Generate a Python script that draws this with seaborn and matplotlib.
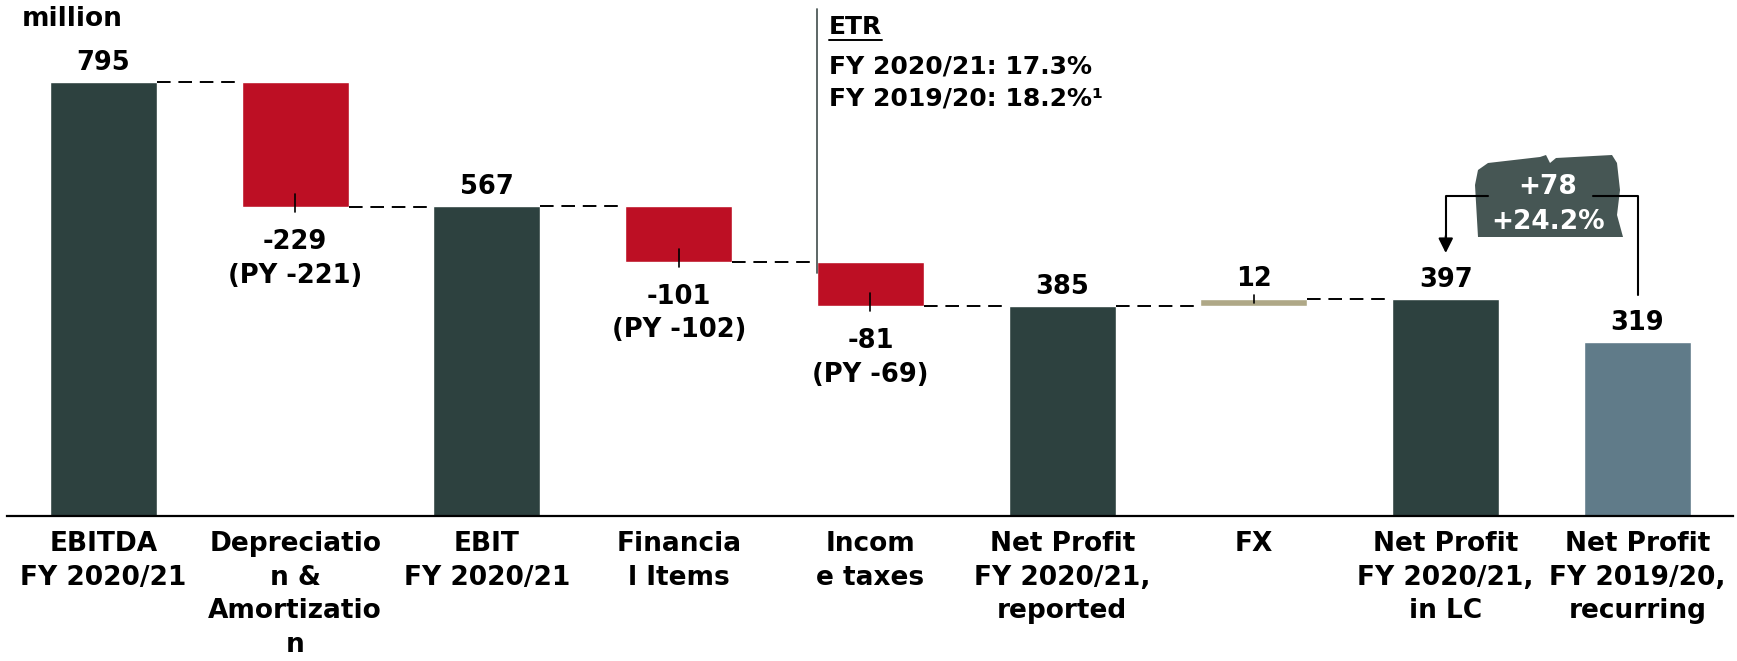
import seaborn as sns
import matplotlib.pyplot as plt
from matplotlib.patches import Polygon
import pandas as pd

categories = ["EBITDA\nFY 2020/21", "Depreciatio\nn &\nAmortizatio\nn", "EBIT\nFY 2020/21",
              "Financia\nl Items", "Incom\ne taxes", "Net Profit\nFY 2020/21,\nreported",
              "FX", "Net Profit\nFY 2020/21,\nin LC", "Net Profit\nFY 2019/20,\nrecurring"]
values = [795, -229, 567, -101, -81, 385, 12, 397, 319]
kinds = ["total", "delta", "total", "delta", "delta", "total", "delta", "total", "prior"]
prior_year = ["", "(PY -221)", "", "(PY -102)", "(PY -69)", "", "", "", ""]
etr_lines = ["ETR", "FY 2020/21: 17.3%", "FY 2019/20: 18.2%¹"]
badge_lines = ["+78", "+24.2%"]

DARK, RED, BEIGE, SLATE, BADGE = "#2D413F", "#BD0F24", "#AFA887", "#607B89", "#465654"

# waterfall geometry
bottoms, tops, ends, colors = [], [], [], []
level = 0
for v, k in zip(values, kinds):
    if k == "delta":
        bottoms.append(min(level, level + v))
        tops.append(max(level, level + v))
        level += v
        colors.append(RED if v < 0 else BEIGE)
    else:
        bottoms.append(0)
        tops.append(v)
        level = v
        colors.append(DARK if k == "total" else SLATE)
    ends.append(level)

df = pd.DataFrame({"cat": categories, "span": [t - b for t, b in zip(tops, bottoms)]})

sns.set_style("white")
plt.rcParams["font.family"] = ["DejaVu Sans"]
plt.rcParams["text.color"] = "black"
plt.rcParams["xtick.color"] = "black"

W, H = 1737, 661
K = 0.5459  # px per unit
fig = plt.figure(figsize=(W / 100, H / 100), dpi=100)
ax = fig.add_axes([7 / W, 145 / H, 1726 / W, 516 / H])

BW = 0.558
sns.barplot(data=df, x="cat", y="span", hue="cat", palette=dict(zip(categories, colors)),
            width=BW, dodge=False, legend=False, saturation=1, ax=ax)
for p in ax.patches:
    i = int(round(p.get_x() + p.get_width() / 2))
    p.set_y(bottoms[i])

ax.set_xlim(-0.503, 8.498)
ax.set_ylim(0, 516 / K)
ax.set_xlabel("")
ax.set_ylabel("")
ax.set_yticks([])
sns.despine(ax=ax, left=True)
ax.spines["bottom"].set_color("black")
ax.spines["bottom"].set_linewidth(1.6)
ax.set_xticks(range(len(categories)), categories, fontsize=19, fontweight="bold",
              linespacing=1.38, color="black")
ax.tick_params(axis="x", length=0, pad=11)


def px2y(py):
    return (516 - py) / K


def px2x(px):
    return (px - 103.5) / 191.75


hw = BW / 2
# connectors
for i in range(7):
    ax.plot([i + hw, i + 1 - hw], [ends[i], ends[i]], color="black", lw=1.4,
            linestyle=(0, (7, 4)))

# labels and end ticks
lab = dict(ha="center", va="baseline", fontsize=18.5, fontweight="bold", color="black")
for i, (v, k) in enumerate(zip(values, kinds)):
    if k != "delta":
        ax.text(i, tops[i] + 22, str(v), **lab)
    elif v > 0:
        ax.plot([i, i], [ends[i] - 6, ends[i] + 7], color="black", lw=1.2)
        ax.text(i, tops[i] + 24, str(v), **lab)
    else:
        ax.plot([i, i], [ends[i] - 9, ends[i] + 24], color="black", lw=1.2)
        ax.text(i, bottoms[i] - 77, str(v), **lab)
        ax.text(i, bottoms[i] - 139, prior_year[i], **lab)

fig.text(22 / W, 1 - 26 / H, "million", ha="left", va="baseline", fontsize=19, fontweight="bold",
         color="black")

# ETR note
ax.plot([4 - hw, 4 - hw], [px2y(9), px2y(273)], color="#4F5B59", lw=1.3, clip_on=False)
etr_texts = []
for line, py in zip(etr_lines, [34, 73, 106]):
    etr_texts.append(ax.text(px2x(829), px2y(py), line, ha="left", va="baseline", fontsize=18,
                             fontweight="bold", color="black", clip_on=False))

# badge
badge_px = [(1478, 237), (1475, 185), (1478, 170), (1488, 163), (1540, 157), (1546, 155),
            (1550, 163), (1556, 158), (1612, 155), (1617, 163), (1620, 190), (1617, 215),
            (1623, 237)]
ax.add_patch(Polygon([(px2x(x), px2y(y)) for x, y in badge_px], closed=True, facecolor=BADGE,
                     edgecolor="none", clip_on=False))
for line, py in zip(badge_lines, [187, 222]):
    ax.text(px2x(1548), px2y(py), line, ha="center", va="center", fontsize=19, fontweight="bold",
            color="white")

ax.plot([px2x(1488), 7, 7], [px2y(196), px2y(196), px2y(240)], color="black", lw=1.5)
ax.annotate("", xy=(7, px2y(253)), xytext=(7, px2y(236)),
            arrowprops=dict(arrowstyle="-|>", color="black", lw=1.5, mutation_scale=22,
                            shrinkA=0, shrinkB=0))
ax.plot([px2x(1593), 8, 8], [px2y(196), px2y(196), px2y(295)], color="black", lw=1.5)

# underline under "ETR"
fig.canvas.draw()
bb = etr_texts[0].get_window_extent().transformed(ax.transData.inverted())
ax.plot([bb.x0, bb.x1], [px2y(40), px2y(40)], color="black", lw=1.4, clip_on=False)

fig.savefig("out.png", dpi=100)
